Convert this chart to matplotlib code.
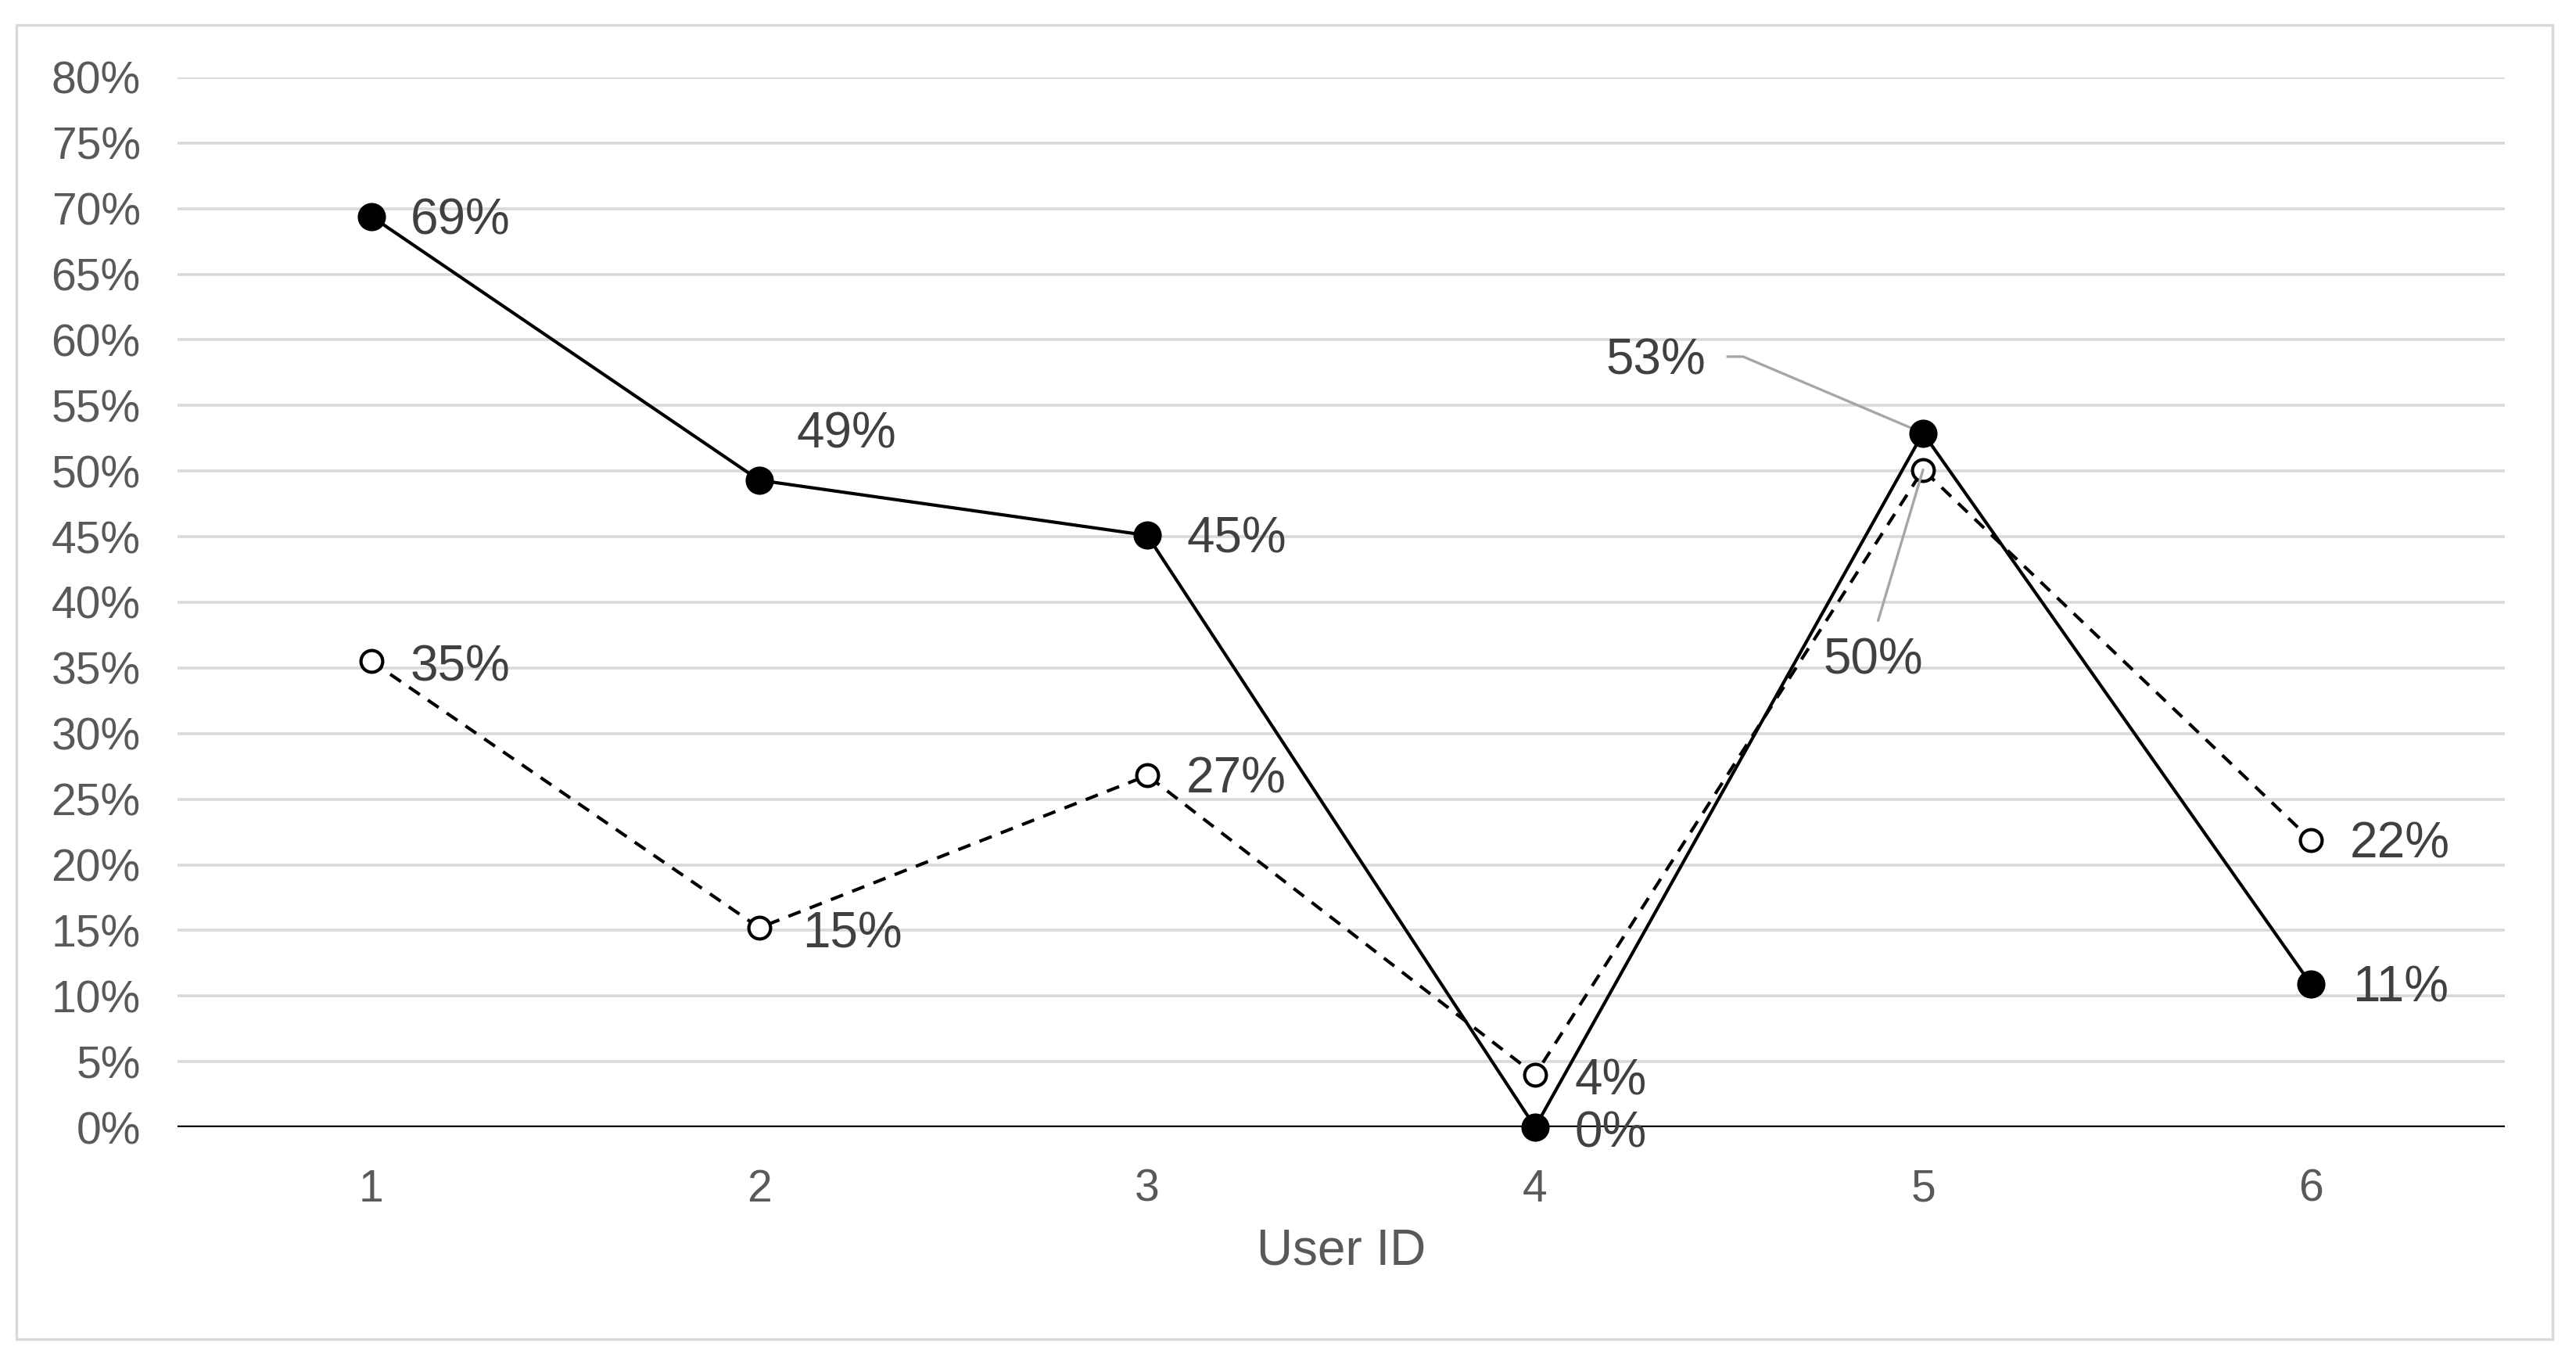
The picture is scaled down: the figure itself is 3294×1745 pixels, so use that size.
import matplotlib.pyplot as plt
from matplotlib.patches import Rectangle

# data
user_ids = [1, 2, 3, 4, 5, 6]
solid_vals = [0.694, 0.493, 0.451, 0.0, 0.529, 0.109]
dashed_vals = [0.355, 0.152, 0.268, 0.040, 0.501, 0.219]
solid_labels = ["69%", "49%", "45%", "0%", "53%", "11%"]
dashed_labels = ["35%", "15%", "27%", "4%", "50%", "22%"]
y_ticks = [i * 0.05 for i in range(17)]
y_ticklabels = [f"{i * 5}%" for i in range(17)]

plt.rcParams["font.family"] = ["Liberation Sans", "DejaVu Sans"]

fig = plt.figure(figsize=(16.47, 8.725), dpi=200)
ax = fig.add_axes([0.0689, 0.1742, 0.9035, 0.7691])

# outer chart border
fig.patches.append(Rectangle((0.0064, 0.0189), 0.9846, 0.9628, transform=fig.transFigure,
                             fill=False, edgecolor="#d9d9d9", linewidth=1.2))

ax.set_xlim(0.5, 6.5)
ax.set_ylim(0, 0.8)
ax.set_yticks(y_ticks)
ax.set_yticklabels(y_ticklabels)
ax.set_xticks(user_ids)
ax.set_xticklabels([str(u) for u in user_ids])
ax.grid(axis="y", color="#d9d9d9", linewidth=1.3)
ax.set_axisbelow(True)
for s in ["top", "right", "left", "bottom"]:
    ax.spines[s].set_visible(False)
ax.axhline(0, color="black", linewidth=1.6, zorder=2)
ax.tick_params(axis="both", length=0, labelsize=20.5, labelcolor="#595959")
ax.tick_params(axis="y", pad=17)
ax.tick_params(axis="x", pad=19)
ax.set_xlabel("User ID", fontsize=23, color="#595959")
ax.xaxis.set_label_coords(0.5, -0.118)
ax.xaxis.label.set_va("center")

ax.plot(user_ids, dashed_vals, color="black", linewidth=1.5, linestyle=(0, (4, 3)),
        marker="o", markersize=10, markerfacecolor="white", markeredgecolor="black",
        markeredgewidth=1.5, zorder=3, clip_on=False)
ax.plot(user_ids, solid_vals, color="black", linewidth=1.5, marker="o", markersize=12,
        markerfacecolor="black", markeredgecolor="black", zorder=4, clip_on=False)

lab = dict(fontsize=23, color="#404040", textcoords="offset points", va="center", ha="left")

# solid series labels (offsets in points)
solid_off = [(18, -2), (17, 21), (18, -2), (18, -3), None, (19, -2)]
for x, v, t, off in zip(user_ids, solid_vals, solid_labels, solid_off):
    if off is not None:
        ax.annotate(t, (x, v), xytext=off, **lab)
ax.annotate("53%", (5, solid_vals[4]), xytext=(-100, 33), fontsize=23, color="#404040",
            textcoords="offset points", va="center", ha="right",
            arrowprops=dict(arrowstyle="-", color="#a6a6a6", linewidth=1.2,
                            relpos=(1, 0.6), shrinkA=8, shrinkB=0,
                            connectionstyle="angle,angleA=0,angleB=157,rad=0"))

dashed_off = [(18, -3), (20, -3), (18, -2), (18, -3), None, (18, -2)]
for x, v, t, off in zip(user_ids, dashed_vals, dashed_labels, dashed_off):
    if off is not None:
        ax.annotate(t, (x, v), xytext=off, **lab)
ax.annotate("50%", (5, dashed_vals[4]), xytext=(-23, -88), fontsize=23, color="#404040",
            textcoords="offset points", va="center", ha="center",
            arrowprops=dict(arrowstyle="-", color="#a6a6a6", linewidth=1.2,
                            relpos=(0.5, 1), shrinkA=6, shrinkB=0))

fig.savefig("out.png", dpi=200, facecolor="white")
